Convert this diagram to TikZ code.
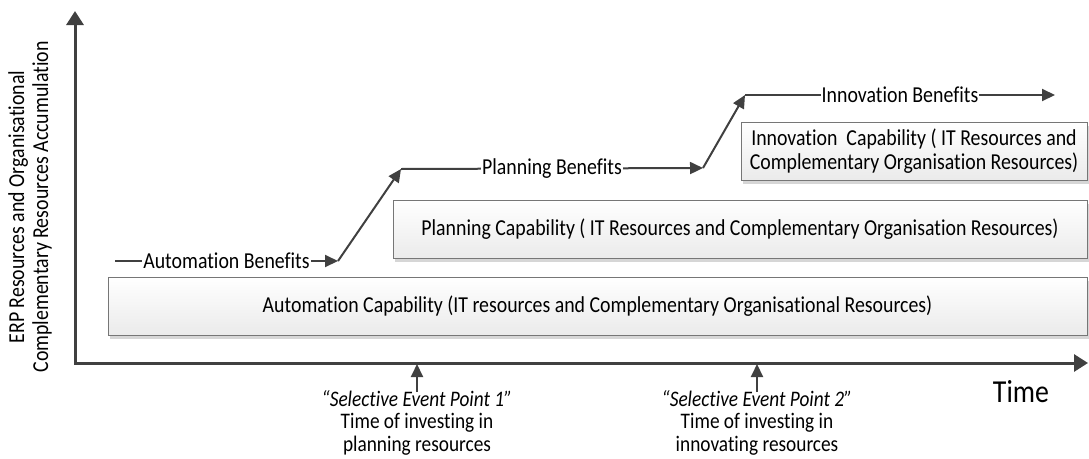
\documentclass[tikz,border=0pt]{standalone}
\usepackage{fontspec}
\setmainfont[FakeStretch=0.87,RawFeature={-liga}]{Carlito}
\usetikzlibrary{arrows.meta,shadows}
\definecolor{arr}{RGB}{64,64,64}
\definecolor{bord}{RGB}{118,118,118}
\definecolor{shd}{RGB}{214,214,214}
\begin{document}
\begin{tikzpicture}[x=1pt,y=-1pt,
  capbox/.style={draw=bord, line width=1pt, top color=white, bottom color=gray!16,
    drop shadow={shadow xshift=2pt,shadow yshift=-3.5pt,fill=shd,opacity=1},
    inner sep=0pt, font=\fontsize{22.8}{24}\selectfont, align=center},
  axisline/.style={draw=arr, line width=3pt, line join=miter,
    {Triangle[length=14pt,width=17pt]}-{Triangle[length=14pt,width=17pt]}},
  flow/.style={draw=arr, line width=2pt, -{Triangle[length=13pt,width=12pt]}},
  lbl/.style={fill=white, inner xsep=1pt, inner ysep=1pt, font=\fontsize{22.8}{24}\selectfont},
  evt/.style={align=center, inner sep=0pt, font=\fontsize{22.2}{22.5}\selectfont}]
\useasboundingbox (0,0) rectangle (1089,458);

% capability boxes
\node[capbox, minimum width=979pt, minimum height=58pt] (auto) at (597.5,306)
  {Automation Capability (IT resources and Complementary Organisational Resources)};
\node[capbox, minimum width=694pt, minimum height=58pt] (plan) at (740,229)
  {Planning Capability ( IT Resources and Complementary Organisation Resources)};
\node[capbox, minimum width=346pt, minimum height=58pt] (inno) at (914,151)
  {Innovation\ \ Capability ( IT Resources and\\Complementary Organisation Resources)};

% axes
\coordinate (ytop) at (75,11);
\coordinate (orig) at (75,363);
\coordinate (xend) at (1088,363);
\draw[axisline] (ytop) -- (orig) -- (xend);

\node[rotate=90, align=center, inner sep=0pt, font=\fontsize{22.8}{24}\selectfont] (ylab) at (30,207)
  {ERP Resources and Organisational\\Complementary Resources Accumulation};
\node[inner sep=0pt, font=\fontsize{32}{34}\selectfont] (time) at (1021,392) {Time};

% benefits path
\coordinate (a0) at (115,261);
\coordinate (a1) at (338,261);
\coordinate (p0) at (401,169);
\coordinate (p1) at (703,168);
\coordinate (i0) at (745,95);
\coordinate (i1) at (1055,95);
\draw[flow] (a0) -- node[lbl] (ab) {Automation Benefits} (a1);
\draw[flow] (a1) -- (p0);
\draw[flow] (p0) -- node[lbl] (pb) {Planning Benefits} (p1);
\draw[flow] (p1) -- (i0);
\draw[flow] (i0) -- node[lbl] (ib) {Innovation Benefits} (i1);

% event points
\coordinate (e1) at (417,364);
\coordinate (e2) at (757,364);
\node[evt, anchor=north] (ev1) at (417,390)
  {{\itshape “Selective Event Point 1”}\\Time of investing in\\planning resources};
\node[evt, anchor=north] (ev2) at (757,390)
  {{\itshape “Selective Event Point 2”}\\Time of investing in\\innovating resources};
\draw[flow] (ev1.north) ++(0,2) -- (e1);
\draw[flow] (ev2.north) ++(0,2) -- (e2);
\end{tikzpicture}
\end{document}
